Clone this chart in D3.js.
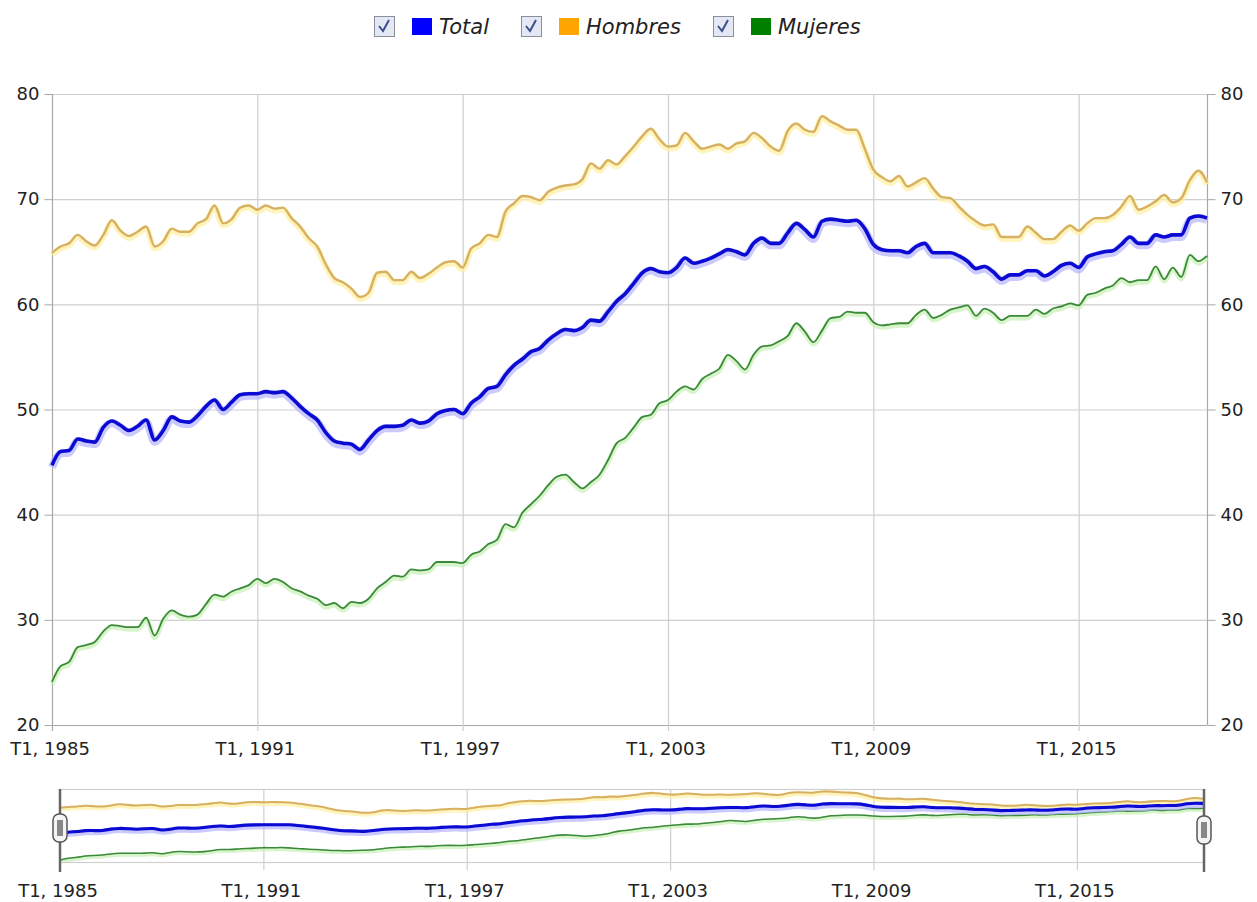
<!DOCTYPE html>
<html>
<head>
<meta charset="utf-8">
<script src="https://cdn.jsdelivr.net/npm/d3@7"></script>
<style>
  html, body { margin: 0; padding: 0; background: #fff; }
  svg text { font-family: "DejaVu Sans", Verdana, sans-serif; fill: #222; }
</style>
</head>
<body>
<div id="chart"></div>
<script>
// Quarterly series, T1 1985 .. T4 2018 (136 points)
const startYear = 1985;
const total = [
  44.7, 46.0, 46.1, 47.2, 47.0, 46.9, 48.3, 48.9, 48.5, 48.0,
  48.4, 49.0, 47.1, 48.0, 49.3, 48.9, 48.8, 49.4, 50.3, 50.9,
  50.0, 50.7, 51.4, 51.5, 51.5, 51.7, 51.6, 51.7, 51.1, 50.3,
  49.6, 49.0, 47.8, 47.0, 46.8, 46.7, 46.2, 47.1, 48.0, 48.4,
  48.4, 48.5, 49.0, 48.7, 48.9, 49.6, 49.9, 50.0, 49.6, 50.6,
  51.2, 52.0, 52.2, 53.3, 54.2, 54.8, 55.5, 55.8, 56.6, 57.2,
  57.6, 57.5, 57.8, 58.5, 58.4, 59.3, 60.3, 61.0, 62.0, 63.0,
  63.4, 63.1, 63.0, 63.5, 64.4, 63.9, 64.1, 64.4, 64.8, 65.2,
  65.0, 64.7, 65.8, 66.3, 65.8, 65.8, 66.8, 67.7, 67.1, 66.4,
  67.9, 68.1, 68.0, 67.9, 68.0, 67.2, 65.7, 65.2, 65.1, 65.1,
  64.9, 65.5, 65.8, 64.9, 64.9, 64.9, 64.6, 64.1, 63.4, 63.6,
  63.1, 62.4, 62.8, 62.8, 63.2, 63.2, 62.7, 63.1, 63.7, 63.9,
  63.5, 64.5, 64.8, 65.0, 65.1, 65.7, 66.4, 65.8, 65.8, 66.6,
  66.4, 66.6, 66.6, 68.2, 68.4, 68.2
];
const hombres = [
  64.9, 65.5, 65.8, 66.6, 66.0, 65.6, 66.6, 68.0, 67.0, 66.5,
  66.9, 67.4, 65.5, 66.0, 67.2, 66.9, 66.9, 67.7, 68.1, 69.4,
  67.7, 68.1, 69.2, 69.4, 69.0, 69.4, 69.1, 69.2, 68.2, 67.4,
  66.3, 65.5, 63.8, 62.5, 62.1, 61.5, 60.7, 61.1, 63.0, 63.1,
  62.3, 62.3, 63.1, 62.5, 62.9, 63.5, 64.0, 64.1, 63.5, 65.3,
  65.8, 66.6, 66.4, 68.8, 69.6, 70.3, 70.2, 69.9, 70.7, 71.1,
  71.3, 71.4, 71.9, 73.4, 72.9, 73.7, 73.3, 74.1, 75.0, 76.0,
  76.7, 75.7, 75.0, 75.1, 76.3, 75.5, 74.8, 75.0, 75.2, 74.8,
  75.3, 75.5, 76.3, 75.8, 75.0, 74.6, 76.5, 77.2, 76.6, 76.4,
  77.9, 77.4, 77.0, 76.6, 76.6, 74.8, 72.8, 72.1, 71.7, 72.2,
  71.2, 71.6, 72.0, 71.0, 70.2, 70.1, 69.3, 68.5, 67.9, 67.5,
  67.6, 66.4, 66.4, 66.4, 67.4, 66.8, 66.2, 66.2, 66.9, 67.5,
  67.0, 67.7, 68.2, 68.2, 68.5, 69.3, 70.3, 69.0, 69.3, 69.8,
  70.4, 69.7, 70.1, 71.8, 72.7, 71.6
];
const mujeres = [
  24.1, 25.6, 26.0, 27.4, 27.6, 27.9, 28.9, 29.5, 29.4, 29.3,
  29.3, 30.2, 28.5, 30.1, 30.9, 30.5, 30.3, 30.5, 31.5, 32.4,
  32.2, 32.7, 33.0, 33.3, 33.9, 33.5, 33.9, 33.6, 33.0, 32.7,
  32.3, 32.0, 31.4, 31.6, 31.1, 31.7, 31.6, 32.0, 33.0, 33.6,
  34.2, 34.1, 34.8, 34.7, 34.8, 35.5, 35.5, 35.5, 35.4, 36.2,
  36.5, 37.2, 37.6, 39.1, 38.8, 40.2, 41.0, 41.8, 42.8, 43.6,
  43.8, 43.1, 42.5, 43.1, 43.8, 45.2, 46.8, 47.3, 48.3, 49.3,
  49.5, 50.6, 50.9, 51.7, 52.2, 51.9, 52.9, 53.4, 53.9, 55.2,
  54.6, 53.8, 55.2, 56.0, 56.1, 56.5, 57.0, 58.2, 57.4, 56.4,
  57.5, 58.7, 58.8, 59.3, 59.2, 59.2, 58.3, 58.0, 58.1, 58.2,
  58.2, 59.0, 59.5, 58.7, 59.0, 59.5, 59.7, 59.9, 58.9, 59.6,
  59.2, 58.5, 58.9, 58.9, 58.9, 59.5, 59.1, 59.6, 59.8, 60.1,
  59.9, 60.9, 61.1, 61.5, 61.8, 62.5, 62.1, 62.3, 62.3, 63.6,
  62.4, 63.5, 62.6, 64.7, 64.1, 64.6
];
const seriesNames = ['Total', 'Hombres', 'Mujeres'];
const yTicks = [20, 30, 40, 50, 60, 70, 80];
const tickLabels = ['T1, 1985', 'T1, 1991', 'T1, 1997', 'T1, 2003', 'T1, 2009', 'T1, 2015'];

const quarters = total.map((_, i) => `T${(i % 4) + 1}, ${startYear + Math.floor(i / 4)}`);
const tickIdx = tickLabels.map((l) => quarters.indexOf(l));

const styles = {
  Total:   { legend: '#0000ff', stroke: '#0a0ad2', width: 3.6, glow: '#b4b4ff', glowW: 8 },
  Hombres: { legend: '#ffa500', stroke: '#d8b062', width: 2.4, glow: '#fff0a0', glowW: 6 },
  Mujeres: { legend: '#008000', stroke: '#3a8a3a', width: 1.8, glow: '#c8f0b4', glowW: 5 }
};
const data = { Total: total, Hombres: hombres, Mujeres: mujeres };

const W = 1257, H = 902;
const svg = d3.select('#chart').append('svg').attr('width', W).attr('height', H);

// ---- legend
const legend = svg.append('g').attr('class', 'legend');
const legendX = { Total: 374, Hombres: 521, Mujeres: 713 };
seriesNames.forEach((name) => {
  const g = legend.append('g').attr('transform', `translate(${legendX[name]},16)`);
  g.append('rect').attr('x', 0.5).attr('y', 0.5).attr('width', 20).attr('height', 20)
    .attr('fill', '#e4e8f4').attr('stroke', '#8a8f9c');
  g.append('path').attr('d', 'M5,10 L9,15 L15,4').attr('fill', 'none')
    .attr('stroke', '#3a4f8c').attr('stroke-width', 2);
  g.append('rect').attr('x', 38).attr('y', 2).attr('width', 20).attr('height', 17)
    .attr('fill', styles[name].legend);
  g.append('text').attr('x', 65).attr('y', 18).attr('font-size', 21)
    .attr('font-style', 'italic').text(name);
});

// ---- main chart
const x = d3.scaleLinear().domain([0, total.length - 1]).range([52, 1207]);
const y = d3.scaleLinear().domain([20, 80]).range([725, 94]);

const main = svg.append('g');
main.selectAll('.hgrid').data(yTicks).join('line')
  .attr('x1', x.range()[0]).attr('x2', x.range()[1])
  .attr('y1', (d) => y(d) + 0.5).attr('y2', (d) => y(d) + 0.5)
  .attr('stroke', (d) => (d === 20 ? '#a8a8a8' : '#cfcfcf')).attr('stroke-width', 1.2);
main.selectAll('.vgrid').data(tickIdx).join('line')
  .attr('x1', (d) => x(d) + 0.5).attr('x2', (d) => x(d) + 0.5)
  .attr('y1', y(80)).attr('y2', y(20) + 6)
  .attr('stroke', (d, i) => (i === 0 ? '#a8a8a8' : '#cfcfcf')).attr('stroke-width', 1.2);
main.append('line').attr('x1', 1207.5).attr('x2', 1207.5).attr('y1', y(80)).attr('y2', y(20))
  .attr('stroke', '#a8a8a8').attr('stroke-width', 1.2);

const yLeft = d3.axisLeft(y).tickValues(yTicks).tickSize(8).tickPadding(5);
const yRight = d3.axisRight(y).tickValues(yTicks).tickSize(8).tickPadding(5);
const gl = main.append('g').attr('transform', 'translate(52.5,0)').call(yLeft);
const gr = main.append('g').attr('transform', 'translate(1207.5,0)').call(yRight);
[gl, gr].forEach((g) => {
  g.select('.domain').remove();
  g.selectAll('line').attr('stroke', '#a8a8a8');
  g.selectAll('text').attr('font-size', 18).attr('fill', '#222')
    .attr('font-family', '"DejaVu Sans", Verdana, sans-serif');
});

main.selectAll('.xlab').data(tickIdx).join('text')
  .attr('x', (d) => x(d) - 2).attr('y', 755).attr('text-anchor', 'middle')
  .attr('font-size', 18).text((d) => quarters[d]);

const line = d3.line().x((d, i) => x(i)).y((d) => y(d)).curve(d3.curveMonotoneX);
['Hombres', 'Mujeres', 'Total'].forEach((name) => {
  const s = styles[name];
  main.append('path').attr('d', line(data[name])).attr('fill', 'none')
    .attr('stroke', s.glow).attr('stroke-width', s.glowW).attr('stroke-opacity', 0.7)
    .attr('stroke-linejoin', 'round').attr('transform', 'translate(0,2)');
  main.append('path').attr('d', line(data[name])).attr('fill', 'none')
    .attr('stroke', s.stroke).attr('stroke-width', s.width).attr('stroke-linejoin', 'round');
});

// ---- navigator
const nx = d3.scaleLinear().domain([0, total.length - 1]).range([60, 1204]);
const allVals = total.concat(hombres, mujeres);
const ny = d3.scaleLinear().domain(d3.extent(allVals)).range([860, 791]);
const nav = svg.append('g');
nav.append('rect').attr('x', 60.5).attr('y', 789.5).attr('width', 1144).attr('height', 73)
  .attr('fill', '#fff').attr('stroke', '#cfcfcf').attr('stroke-width', 1.2);
nav.selectAll('.nvgrid').data(tickIdx.slice(1)).join('line')
  .attr('x1', (d) => nx(d) + 0.5).attr('x2', (d) => nx(d) + 0.5)
  .attr('y1', 789).attr('y2', 870)
  .attr('stroke', '#cfcfcf').attr('stroke-width', 1.2);
const nline = d3.line().x((d, i) => nx(i)).y((d) => ny(d)).curve(d3.curveBasis);
['Hombres', 'Mujeres', 'Total'].forEach((name) => {
  const s = styles[name];
  nav.append('path').attr('d', nline(data[name])).attr('fill', 'none')
    .attr('stroke', s.glow).attr('stroke-width', s.glowW * 0.8).attr('stroke-opacity', 0.7)
    .attr('transform', 'translate(0,1.5)');
  nav.append('path').attr('d', nline(data[name])).attr('fill', 'none')
    .attr('stroke', s.stroke).attr('stroke-width', s.width * 0.85);
});
nav.selectAll('.nlab').data(tickIdx).join('text')
  .attr('x', (d) => nx(d) - 2).attr('y', 897).attr('text-anchor', 'middle')
  .attr('font-size', 18).text((d) => quarters[d]);

// handles
[[0, 828], [total.length - 1, 830]].forEach(([i, cy]) => {
  const hx = nx(i);
  nav.append('line').attr('x1', hx).attr('x2', hx).attr('y1', 789).attr('y2', 872)
    .attr('stroke', '#666').attr('stroke-width', 2.5);
  nav.append('rect').attr('x', hx - 7).attr('y', cy - 14).attr('width', 14).attr('height', 28)
    .attr('rx', 6).attr('fill', '#f4f4f4').attr('stroke', '#555').attr('stroke-width', 1.5);
  nav.append('rect').attr('x', hx - 3).attr('y', cy - 8).attr('width', 6).attr('height', 16)
    .attr('fill', '#888');
});
</script>
</body>
</html>
